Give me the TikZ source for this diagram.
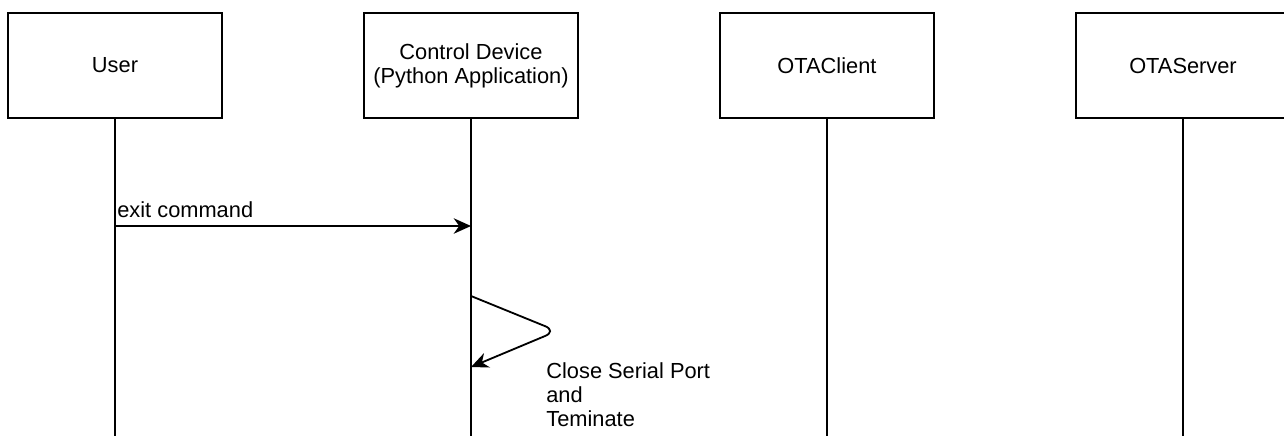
\documentclass[tikz,border=0pt]{standalone}
\usepackage{fontspec}
\setmainfont{Liberation Sans}
\usepackage{tikz}
\usepackage{xcolor}
\usetikzlibrary{arrows.meta,positioning,calc}
\definecolor{ink}{HTML}{000000}
\definecolor{paper}{HTML}{FFFFFF}
\tikzset{
  actor/.style={draw=ink, fill=paper, line width=1pt, minimum width=117.7pt,
                minimum height=57.75pt, align=center, inner sep=0pt,
                font=\fontsize{12}{13.2}\selectfont},
  lifeline/.style={draw=ink, line width=1pt},
  msg/.style={-{Stealth[length=9.5pt,width=8.5pt,inset=3pt]}, line width=1pt, draw=ink},
  msglabel/.style={inner sep=0pt, align=left, text=ink,
                   font=\fontsize{12}{13.2}\selectfont}
}

\begin{document}
\begin{tikzpicture}[x=0.55pt,y=-0.55pt]
    \useasboundingbox[fill=paper] (0,0) rectangle (1284,435);

    % Participants
    \node[actor] (user) at (115,65.5) {User};
    \node[actor] (ctrl) at (471,65.5) {Control Device\\(Python Application)};
    \node[actor] (client) at (827,65.5) {OTAClient};
    \node[actor] (server) at (1183,65.5) {OTAServer};

    % Lifelines
    \coordinate (userEnd) at (115,440);
    \coordinate (ctrlEnd) at (471,440);
    \coordinate (clientEnd) at (827,440);
    \coordinate (serverEnd) at (1183,440);
    \draw[lifeline] (user.south) -- (userEnd);
    \draw[lifeline] (ctrl.south) -- (ctrlEnd);
    \draw[lifeline] (client.south) -- (clientEnd);
    \draw[lifeline] (server.south) -- (serverEnd);

    % exit command
    \coordinate (exitFrom) at (115,226);
    \coordinate (exitTo) at (471,226);
    \draw[msg] (exitFrom) -- (exitTo);
    \node[msglabel, anchor=base west] (exitLbl) at (117,217) {exit command};

    % Self call on the control device
    \coordinate (loopFrom) at (471,296);
    \coordinate (loopTip) at (557,331);
    \coordinate (loopTo) at (471,367);
    \draw[msg, rounded corners=7pt] (loopFrom) -- (loopTip) -- (loopTo);
    \node[msglabel, anchor=north west] (loopLbl) at (546,362)
      {Close Serial Port\\and\\Teminate};
  \end{tikzpicture}
\end{document}
